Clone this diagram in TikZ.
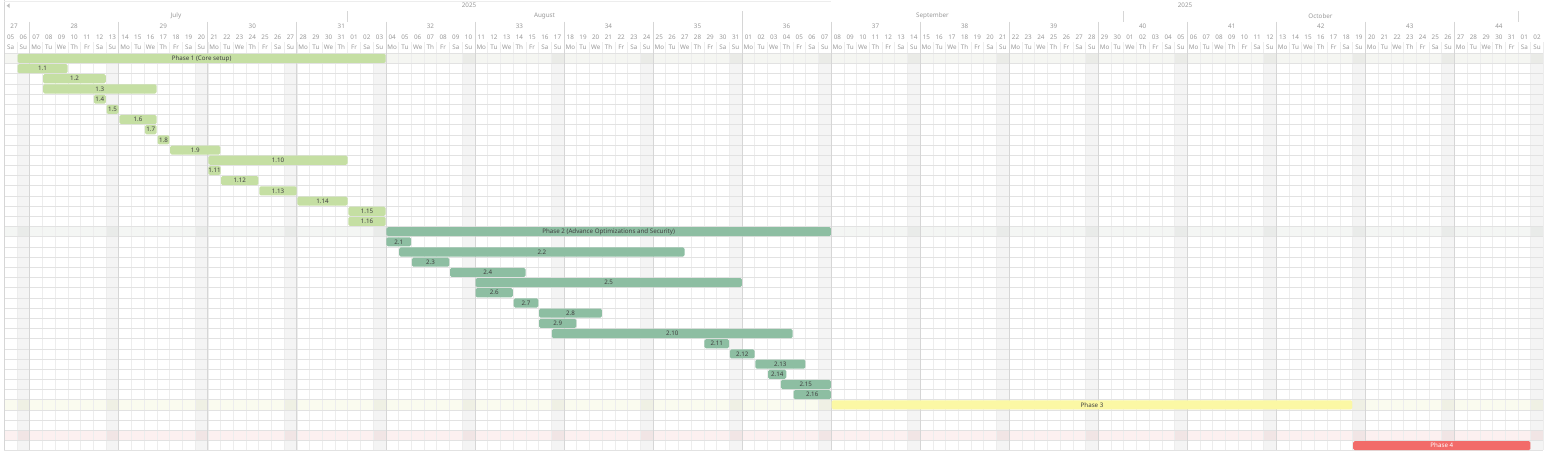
\documentclass[tikz,border=0pt]{standalone}
\usepackage{fontspec}
\setmainfont{Noto Sans}
\definecolor{phA}{HTML}{C5DFA3}
\definecolor{phB}{HTML}{8DBEA2}
\definecolor{phC}{HTML}{FBF8A4}
\definecolor{phD}{HTML}{F26B69}
\definecolor{tintA}{HTML}{F5F6F2}
\definecolor{tintB}{HTML}{F4F6F4}
\definecolor{tintC}{HTML}{FAFBEF}
\definecolor{tintD}{HTML}{FCF0F0}
\definecolor{gline}{HTML}{E2E2E2}
\definecolor{dline}{HTML}{EDEDED}
\definecolor{wline}{HTML}{D6D6D6}
\definecolor{htxt}{HTML}{999999}
\definecolor{btxt}{HTML}{404040}
\def\gxo{4.26}
\def\gdx{12.72}
\def\gyo{53.3}
\def\grh{10.19}
\def\gxe{1543.4}
\begin{document}
\begin{tikzpicture}[x=1pt,y=-1pt,
  hdr/.style={font=\fontsize{6.3}{7}\selectfont, text=htxt, inner sep=0pt},
  bar/.style={rounded corners=1.5pt, inner sep=0pt, minimum height=9.1pt,
    font=\fontsize{6.2}{7}\selectfont, text=btxt},
  pA/.style={fill=phA},
  pB/.style={fill=phB},
  pC/.style={fill=phC},
  pD/.style={fill=phD, text=white},
  rowline/.style={draw=gline, line width=0.6pt},
  dayline/.style={draw=dline, line width=0.5pt},
  weekline/.style={draw=wline, line width=0.7pt},
  sunday/.style={fill=black, fill opacity=0.045}]
\useasboundingbox (0,0) rectangle (1547,450);
\fill[white] (0,0) rectangle (1547,450);
% row tints
\fill[tintA] (\gxo,{\gyo+0*\grh}) rectangle (\gxe,{\gyo+1*\grh});
\fill[tintB] (\gxo,{\gyo+17*\grh}) rectangle (\gxe,{\gyo+18*\grh});
\fill[tintC] (\gxo,{\gyo+34*\grh}) rectangle (\gxe,{\gyo+35*\grh});
\fill[tintD] (\gxo,{\gyo+37*\grh}) rectangle (\gxe,{\gyo+38*\grh});
% sundays
\foreach \i in {1,8,...,120} {
  \fill[sunday] ({\gxo+\i*\gdx},\gyo) rectangle ({\gxo+(\i+1)*\gdx},450);
}
% day lines
\foreach \i in {1,...,121} {
  \draw[dayline] ({\gxo+\i*\gdx},42) -- ({\gxo+\i*\gdx},450);
}
% row lines
\foreach \r in {0,...,39} {
  \draw[rowline] (\gxo,{\gyo+\r*\grh}) -- (\gxe,{\gyo+\r*\grh});
}
% week lines
\foreach \i in {2,9,...,120} {
  \draw[weekline] ({\gxo+\i*\gdx},21.5) -- ({\gxo+\i*\gdx},450);
}
% month lines
\foreach \i in {27,58,88,119} {
  \draw[weekline] ({\gxo+\i*\gdx},11) -- ({\gxo+\i*\gdx},21.5);
}
% borders
\draw[weekline] (\gxo,0) -- (\gxo,450);
\draw[dayline] (\gxo,1) -- (831,1);
% top arrow
\fill[black!25] (6.6,5.7) -- (9.6,3.4) -- (9.6,8) -- cycle;
% years and months
\node[hdr] (y1) at (469,5.6) {2025};
\node[hdr] (y2) at (1185,5.6) {2025};
\node[hdr] (m7) at (176,16) {July};
\node[hdr] (m8) at (544.5,16) {August};
\node[hdr] (m9) at (932.5,16) {September};
\node[hdr] (m10) at (1320.5,16) {October};
% weeks
\node[hdr] (w27) at (14,26.3) {27};
\foreach \k in {28,...,44} {
  \pgfmathsetmacro\xw{\gxo+(2+7*(\k-28)+3.5)*\gdx}
  \node[hdr] (w\k) at (\xw,26.3) {\k};
}
% days
\foreach \i in {0,...,120} {
  \pgfmathsetmacro\xc{\gxo+(\i+0.5)*\gdx}
  \pgfmathtruncatemacro\dnum{\i<27 ? \i+5 : (\i<58 ? \i-26 : (\i<88 ? \i-57 : (\i<119 ? \i-87 : \i-118)))}
  \pgfmathtruncatemacro\wkd{mod(\i,7)}
  \node[hdr] (dn\i) at (\xc,37.2) {\ifnum\dnum<10 0\fi\dnum};
  \node[hdr] (wd\i) at (\xc,47.6) {\ifcase\wkd Sa\or Su\or Mo\or Tu\or We\or Th\or Fr\fi};
}
% bars
\foreach \s/\e/\r/\lab/\sty in {
  1/30/0/{Phase 1 (Core setup)}/pA,
  1/5/1/1.1/pA, 3/8/2/1.2/pA, 3/12/3/1.3/pA, 7/8/4/1.4/pA, 8/9/5/1.5/pA,
  9/12/6/1.6/pA, 11/12/7/1.7/pA, 12/13/8/1.8/pA, 13/17/9/1.9/pA,
  16/27/10/1.10/pA, 16/17/11/1.11/pA, 17/20/12/1.12/pA, 20/23/13/1.13/pA,
  23/27/14/1.14/pA, 27/30/15/1.15/pA, 27/30/16/1.16/pA,
  30/65/17/{Phase 2 (Advance Optimizations and Security)}/pB,
  30/32/18/2.1/pB, 31/53.5/19/2.2/pB, 32/35/20/2.3/pB, 35/41/21/2.4/pB,
  37/58/22/2.5/pB, 37/40/23/2.6/pB, 40/42/24/2.7/pB, 42/47/25/2.8/pB,
  42/45/26/2.9/pB, 43/62/27/2.10/pB, 55/57/28/2.11/pB, 57/59/29/2.12/pB,
  59/63/30/2.13/pB, 60/61.5/31/2.14/pB, 61/65/32/2.15/pB, 62/65/33/2.16/pB,
  65/106/34/{Phase 3}/pC,
  106/120/38/{Phase 4}/pD} {
  \pgfmathsetmacro\bw{(\e-\s)*\gdx-0.8}
  \pgfmathsetmacro\bx{\gxo+\s*\gdx+0.4}
  \pgfmathsetmacro\by{\gyo+(\r+0.5)*\grh}
  \node[bar,\sty,minimum width=\bw pt,anchor=west] (bar\r) at (\bx,\by) {\lab};
}
\end{tikzpicture}
\end{document}
